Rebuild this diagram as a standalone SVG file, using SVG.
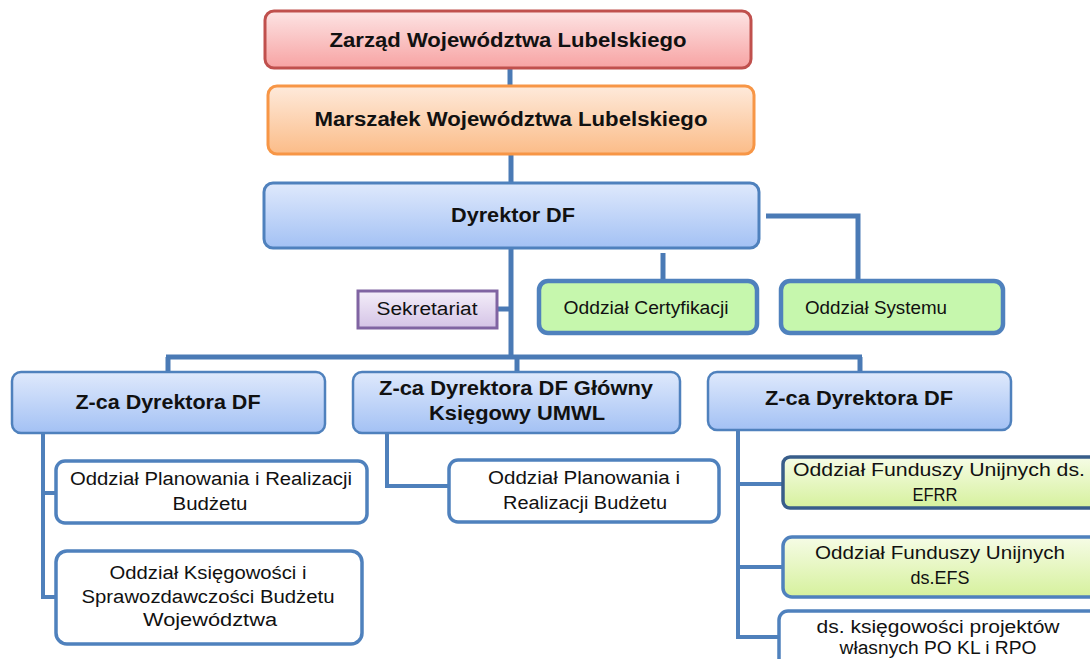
<svg xmlns="http://www.w3.org/2000/svg" width="1090" height="659" viewBox="0 0 1090 659">
<defs>
<linearGradient id="gPink" x1="0" y1="0" x2="0" y2="1"><stop offset="0" stop-color="#fde4e4"/><stop offset="1" stop-color="#f7a3a3"/></linearGradient>
<linearGradient id="gOrange" x1="0" y1="0" x2="0" y2="1"><stop offset="0" stop-color="#feeadb"/><stop offset="1" stop-color="#fbbc88"/></linearGradient>
<linearGradient id="gBlue" x1="0" y1="0" x2="0" y2="1"><stop offset="0" stop-color="#dfe9fc"/><stop offset="1" stop-color="#a3c1f4"/></linearGradient>
<linearGradient id="gPurple" x1="0" y1="0" x2="0" y2="1"><stop offset="0" stop-color="#f4eef9"/><stop offset="1" stop-color="#d4c3e6"/></linearGradient>
<linearGradient id="gLime" x1="0" y1="0" x2="0" y2="1"><stop offset="0" stop-color="#f6fce6"/><stop offset="1" stop-color="#d6f19d"/></linearGradient>
</defs>
<style>
.t{font-family:"Liberation Sans",Arial,sans-serif;fill:#111;text-anchor:middle}
.b{font-weight:bold;font-size:20px}
.r{font-size:18px}
.con{stroke:#4a7ab5;stroke-width:5;fill:none}
.con2{stroke:#4f80bb;stroke-width:4;fill:none}
</style>
<g id="connectors">
<path class="con" d="M510 68V86"/>
<path class="con" d="M511 154V183"/>
<path class="con" d="M511 248V357"/>
<path class="con" d="M497 309H511"/>
<path class="con" d="M663 253V282"/>
<path class="con" d="M766 216H858V281"/>
<path class="con" d="M166 357H862"/>
<path class="con" d="M168 357V372"/>
<path class="con" d="M517 357V372"/>
<path class="con" d="M860 357V372"/>
<path class="con2" d="M43 433V597H56M43 493H56"/>
<path class="con2" d="M387 433V486H449"/>
<path class="con2" d="M738 430V637H779M738 484H783M738 567H783"/>
</g>
<g id="zarzad">
<rect x="265" y="11" width="486" height="57" rx="9" fill="url(#gPink)" stroke="#c0504d" stroke-width="3"/>
<text class="t b" x="508" y="47" textLength="357" lengthAdjust="spacingAndGlyphs">Zarząd Województwa Lubelskiego</text>
</g>
<g id="marszalek">
<rect x="268" y="86" width="486" height="68" rx="9" fill="url(#gOrange)" stroke="#f79646" stroke-width="3"/>
<text class="t b" x="511" y="126" textLength="393" lengthAdjust="spacingAndGlyphs">Marszałek Województwa Lubelskiego</text>
</g>
<g id="dyrektor">
<rect x="264" y="183" width="495" height="65" rx="9" fill="url(#gBlue)" stroke="#4f81bd" stroke-width="3"/>
<text class="t b" x="513" y="222" textLength="124" lengthAdjust="spacingAndGlyphs">Dyrektor DF</text>
</g>
<g id="sekretariat">
<rect x="358" y="291" width="139" height="37" fill="url(#gPurple)" stroke="#8064a2" stroke-width="3"/>
<text class="t r" x="427" y="315" textLength="101" lengthAdjust="spacingAndGlyphs">Sekretariat</text>
</g>
<g id="certyfikacja">
<rect x="539" y="281" width="218" height="52" rx="9" fill="#c6f7ad" stroke="#4f81bd" stroke-width="4.5"/>
<text class="t r" x="646" y="314" textLength="165" lengthAdjust="spacingAndGlyphs">Oddział Certyfikacji</text>
</g>
<g id="system">
<rect x="781" y="281" width="222" height="52" rx="9" fill="#c6f7ad" stroke="#4f81bd" stroke-width="4.5"/>
<text class="t r" x="876" y="314" textLength="142" lengthAdjust="spacingAndGlyphs">Oddział Systemu</text>
</g>
<g id="zca1">
<rect x="12" y="372" width="313" height="61" rx="9" fill="url(#gBlue)" stroke="#4f81bd" stroke-width="2.5"/>
<text class="t b" x="168" y="409" textLength="185" lengthAdjust="spacingAndGlyphs">Z-ca Dyrektora DF</text>
</g>
<g id="zca2">
<rect x="353" y="372" width="327" height="61" rx="9" fill="url(#gBlue)" stroke="#4f81bd" stroke-width="2.5"/>
<text class="t b" x="516" y="395" textLength="274" lengthAdjust="spacingAndGlyphs">Z-ca Dyrektora DF Główny</text>
<text class="t b" x="517" y="420" textLength="176" lengthAdjust="spacingAndGlyphs">Księgowy UMWL</text>
</g>
<g id="zca3">
<rect x="708" y="372" width="303" height="58" rx="9" fill="url(#gBlue)" stroke="#4f81bd" stroke-width="2.5"/>
<text class="t b" x="859" y="405" textLength="188" lengthAdjust="spacingAndGlyphs">Z-ca Dyrektora DF</text>
</g>
<g id="planowanie1">
<rect x="56" y="461" width="311" height="62" rx="9" fill="#fff" stroke="#4f81bd" stroke-width="3.5"/>
<text class="t r" x="211" y="485" textLength="282" lengthAdjust="spacingAndGlyphs">Oddział Planowania i Realizacji</text>
<text class="t r" x="210" y="510" textLength="75" lengthAdjust="spacingAndGlyphs">Budżetu</text>
</g>
<g id="ksiegowosc">
<rect x="56" y="551" width="306" height="93" rx="11" fill="#fff" stroke="#4f81bd" stroke-width="3.5"/>
<text class="t r" x="208" y="579" textLength="197" lengthAdjust="spacingAndGlyphs">Oddział Księgowości i</text>
<text class="t r" x="208" y="603" textLength="253" lengthAdjust="spacingAndGlyphs">Sprawozdawczości Budżetu</text>
<text class="t r" x="210" y="626" textLength="134" lengthAdjust="spacingAndGlyphs">Województwa</text>
</g>
<g id="planowanie2">
<rect x="449" y="460" width="270" height="62" rx="9" fill="#fff" stroke="#4f81bd" stroke-width="3.5"/>
<text class="t r" x="584" y="484" textLength="192" lengthAdjust="spacingAndGlyphs">Oddział Planowania i</text>
<text class="t r" x="585" y="509" textLength="164" lengthAdjust="spacingAndGlyphs">Realizacji Budżetu</text>
</g>
<g id="efrr">
<rect x="783" y="457" width="320" height="51" rx="7" fill="url(#gLime)" stroke="#385d8a" stroke-width="3.5"/>
<text class="t r" x="939" y="476" textLength="292" lengthAdjust="spacingAndGlyphs">Oddział Funduszy Unijnych  ds.</text>
<text class="t r" x="935" y="501" textLength="45" lengthAdjust="spacingAndGlyphs">EFRR</text>
</g>
<g id="efs">
<rect x="783" y="537" width="320" height="60" rx="9" fill="url(#gLime)" stroke="#4f81bd" stroke-width="3.5"/>
<text class="t r" x="940" y="559" textLength="250" lengthAdjust="spacingAndGlyphs">Oddział Funduszy Unijnych</text>
<text class="t r" x="940" y="584" textLength="59" lengthAdjust="spacingAndGlyphs">ds.EFS</text>
</g>
<g id="projekty">
<rect x="779" y="611" width="324" height="70" rx="9" fill="#fff" stroke="#4f81bd" stroke-width="3.5"/>
<text class="t r" x="938" y="633" textLength="243" lengthAdjust="spacingAndGlyphs">ds. księgowości projektów</text>
<text class="t r" x="938" y="654" textLength="197" lengthAdjust="spacingAndGlyphs">własnych PO KL i RPO</text>
</g>
</svg>
